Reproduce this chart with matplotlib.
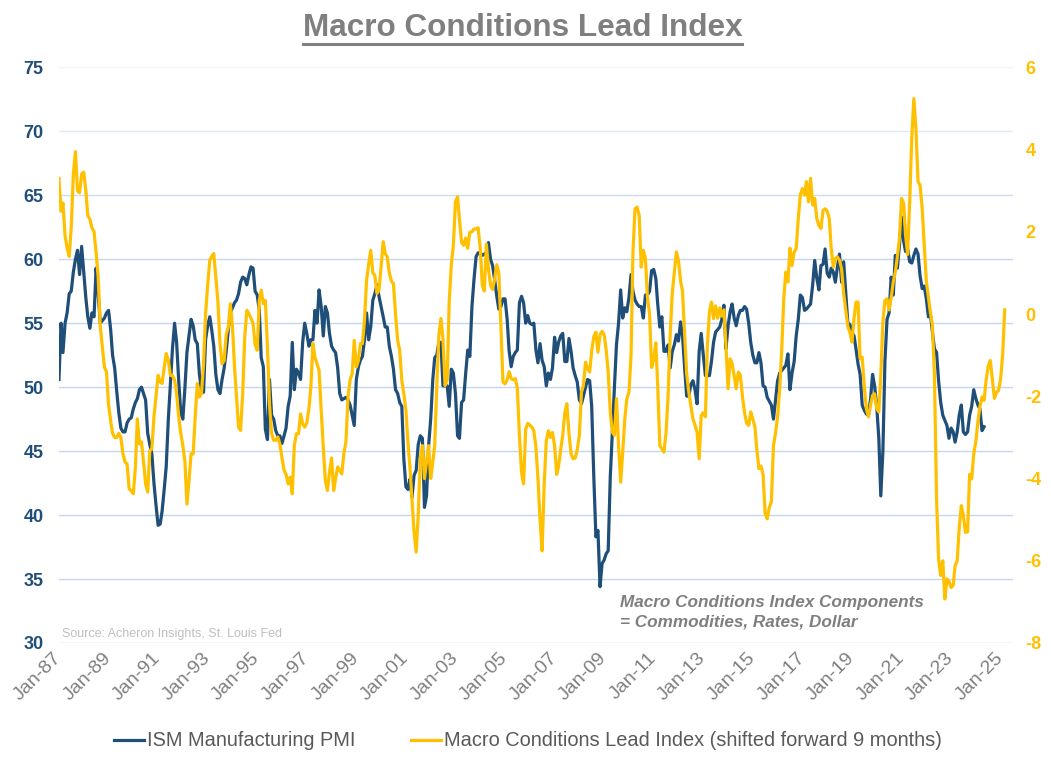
import matplotlib
matplotlib.use("Agg")
import matplotlib.pyplot as plt
import matplotlib.dates as mdates
from matplotlib.lines import Line2D
import pandas as pd

plt.rcParams['font.family'] = ['Liberation Sans', 'DejaVu Sans']
plt.rcParams['axes.unicode_minus'] = False

# ISM Manufacturing PMI, monthly from Jan-87 (left axis)
ism_pmi = [
    50.6, 55.0, 52.7, 55.0, 55.8, 57.3, 57.5, 59.0, 60.0, 60.7, 58.8, 61.0,  # 1987
    59.0, 57.0, 55.5, 54.6, 55.8, 55.5, 59.3, 57.3, 55.0, 55.2, 55.4, 55.8,  # 1988
    56.0, 54.5, 52.5, 51.5, 49.7, 48.0, 46.8, 46.5, 46.5, 47.2, 47.5, 47.6,  # 1989
    48.3, 48.8, 49.1, 49.8, 50.0, 49.5, 49.0, 46.4, 45.5, 44.8, 42.5, 40.8,  # 1990
    39.2, 39.3, 40.3, 42.0, 43.8, 47.5, 50.2, 53.0, 55.0, 53.5, 50.5, 48.0,  # 1991
    47.5, 50.0, 52.7, 54.0, 55.3, 54.8, 53.7, 53.4, 51.0, 49.8, 49.6, 53.7,  # 1992
    54.8, 55.5, 54.5, 53.2, 51.0, 49.8, 49.5, 50.6, 51.5, 52.8, 54.5, 55.8,  # 1993
    56.2, 56.6, 56.8, 57.3, 58.2, 58.6, 58.5, 58.0, 58.8, 59.4, 59.3, 57.5,  # 1994
    57.2, 56.0, 52.3, 51.6, 46.7, 45.9, 50.6, 47.8, 47.5, 46.6, 46.2, 46.2,  # 1995
    45.6, 46.2, 46.8, 48.5, 49.3, 53.5, 49.8, 51.4, 51.1, 50.6, 53.5, 55.0,  # 1996
    54.2, 53.2, 53.7, 53.7, 56.0, 55.0, 57.6, 56.3, 54.0, 56.3, 55.8, 54.2,  # 1997
    53.2, 52.9, 52.7, 51.5, 49.5, 49.0, 49.1, 49.2, 49.0, 48.6, 47.8, 47.0,  # 1998
    50.6, 51.6, 52.1, 52.4, 53.7, 55.8, 53.7, 54.7, 56.8, 57.3, 58.0, 57.1,  # 1999
    56.3, 55.5, 54.7, 54.7, 53.2, 52.4, 51.4, 49.8, 49.5, 48.8, 48.5, 44.4,  # 2000
    42.2, 42.0, 42.8, 41.4, 43.1, 43.5, 45.5, 46.2, 46.0, 40.6, 41.5, 45.4,  # 2001
    47.5, 50.6, 52.3, 52.5, 53.5, 53.5, 50.1, 50.1, 50.1, 48.5, 51.4, 51.1,  # 2002
    49.5, 46.2, 46.0, 48.8, 49.0, 51.1, 52.9, 52.4, 56.3, 58.4, 60.2, 60.5,  # 2003
    60.5, 60.3, 60.4, 60.5, 61.3, 60.0, 59.5, 58.4, 57.1, 56.1, 56.3, 56.9,  # 2004
    56.9, 55.3, 52.9, 51.6, 52.4, 52.7, 52.9, 56.6, 57.1, 56.6, 55.0, 55.6,  # 2005
    55.0, 54.9, 55.0, 52.9, 51.9, 53.4, 52.1, 51.6, 50.1, 51.1, 50.6, 51.5,  # 2006
    53.9, 52.7, 53.5, 54.0, 54.2, 52.0, 52.0, 53.8, 52.8, 51.5, 50.9, 50.4,  # 2007
    49.0, 48.7, 49.3, 50.0, 50.6, 50.5, 48.5, 43.0, 38.3, 38.8, 34.4, 36.2,  # 2008
    36.5, 37.0, 37.2, 43.0, 46.5, 50.0, 53.3, 55.0, 57.6, 55.4, 56.2, 55.9,  # 2009
    57.0, 58.8, 57.5, 56.8, 56.5, 56.3, 56.3, 55.4, 57.2, 57.2, 57.5, 59.1,  # 2010
    59.2, 58.5, 56.5, 54.7, 55.5, 52.8, 52.8, 53.3, 51.5, 52.8, 53.3, 54.1,  # 2011
    53.6, 55.1, 54.0, 51.5, 49.3, 49.3, 50.2, 50.5, 49.8, 48.7, 52.8, 54.2,  # 2012
    52.5, 50.9, 50.9, 50.9, 52.0, 53.5, 54.3, 54.5, 54.7, 55.3, 56.4, 53.0,  # 2013
    54.8, 55.9, 56.5, 55.4, 54.8, 55.6, 56.0, 56.0, 56.3, 56.1, 55.0, 53.5,  # 2014
    52.5, 51.9, 51.9, 52.7, 51.9, 50.1, 50.0, 49.2, 48.9, 48.6, 47.5, 49.0,  # 2015
    50.5, 51.1, 51.3, 51.5, 51.7, 52.6, 49.8, 51.1, 52.0, 54.0, 55.3, 57.2,  # 2016
    57.0, 56.0, 56.1, 56.3, 56.5, 58.0, 59.9, 58.5, 57.6, 59.5, 59.6, 60.8,  # 2017
    58.9, 58.6, 59.3, 59.0, 58.2, 59.4, 60.4, 58.2, 59.8, 57.4, 55.0, 54.9,  # 2018
    54.3, 54.0, 53.0, 51.8, 51.0, 48.6, 48.2, 47.9, 47.8, 49.0, 51.0, 50.1,  # 2019
    48.5, 46.0, 41.5, 45.0, 52.0, 55.3, 55.8, 58.6, 57.2, 60.3, 59.3, 61.1,  # 2020
    63.3, 61.4, 60.6, 60.8, 59.8, 59.7, 60.3, 60.8, 60.4, 58.7, 57.7, 57.9,  # 2021
    56.9, 55.5, 55.8, 54.3, 53.0, 52.7, 50.5, 48.8, 47.8, 47.4, 47.0, 46.0,  # 2022
    46.8, 46.5, 45.7, 46.5, 47.8, 48.6, 46.5, 46.3, 46.5, 47.8, 48.5, 49.8,  # 2023
    49.1, 48.6, 48.3, 46.6, 46.9,                                            # 2024
]

# Macro Conditions Lead Index shifted forward 9 months, monthly from Jan-87 (right axis)
macro_lead = [
    3.3, 2.5, 2.7, 1.9, 1.6, 1.4, 2.1, 3.4, 3.95, 3.0, 2.95, 3.4,  # 1987
    3.45, 3.0, 2.4, 2.3, 2.1, 2.0, 1.5, 0.9, -0.3, -0.8, -1.3, -1.4,  # 1988
    -2.2, -2.6, -2.9, -3.0, -3.0, -2.9, -3.0, -3.4, -3.6, -3.65, -4.25, -4.3,  # 1989
    -4.37, -3.72, -2.55, -3.16, -3.11, -3.6, -4.13, -4.33, -3.32, -3.28, -2.5, -2.0,  # 1990
    -1.49, -1.65, -1.69, -1.3, -0.96, -1.13, -1.49, -1.5, -1.6, -1.94, -2.5, -2.9,  # 1991
    -3.2, -3.6, -4.62, -4.05, -3.4, -3.4, -2.5, -1.69, -2.02, -1.94, -1.21, 0.0,  # 1992
    0.7, 1.31, 1.4, 1.47, 0.9, 0.3, -0.72, -1.21, -1.13, -0.5, -0.32, 0.25,  # 1993
    -0.3, -1.3, -2.0, -2.75, -2.83, -1.94, -0.56, 0.09, 0.0, -0.1, -0.23, -0.75,  # 1994
    -0.88, 0.33, 0.58, 0.25, 0.33, -0.8, -2.2, -2.9, -3.07, -3.07, -2.99, -3.16,  # 1995
    -3.5, -3.8, -3.9, -4.13, -3.97, -4.37, -3.2, -2.91, -2.91, -2.43, -2.67, -2.75,  # 1996
    -2.65, -2.3, -1.8, -0.72, -1.05, -1.21, -1.37, -2.34, -3.24, -4.05, -4.29, -3.85,  # 1997
    -3.5, -4.29, -4.0, -3.72, -3.8, -3.89, -3.4, -3.1, -2.0, -1.6, -1.45, -0.64,  # 1998
    -1.29, -1.13, -0.72, -0.72, -0.15, 0.82, 1.2, 1.55, 1.0, 0.94, 0.5, 0.58,  # 1999
    1.15, 1.76, 1.47, 1.39, 1.0, 0.8, 0.74, 0.0, -0.64, -0.88, -1.61, -1.94,  # 2000
    -2.34, -3.16, -3.72, -4.54, -5.3, -5.79, -4.9, -3.5, -3.2, -4.0, -3.6, -3.2,  # 2001
    -4.0, -3.6, -3.2, -1.74, -0.52, -0.11, -0.6, -1.74, -1.6, 0.3, 1.2, 1.67,  # 2002
    2.73, 2.85, 2.3, 1.75, 1.67, 1.85, 1.6, 1.99, 2.0, 2.07, 2.07, 2.1,  # 2003
    1.6, 0.7, 0.56, 1.7, 1.1, 0.7, 0.6, 0.85, 1.2, 1.0, -0.3, -1.65,  # 2004
    -1.7, -1.6, -1.4, -1.57, -1.6, -1.57, -1.8, -2.95, -3.85, -4.13, -2.8, -2.66,  # 2005
    -2.7, -2.75, -2.84, -3.24, -4.0, -5.0, -5.76, -4.13, -3.08, -2.84, -3.0, -2.88,  # 2006
    -3.2, -3.9, -3.7, -3.3, -2.95, -2.4, -2.18, -2.9, -3.4, -3.52, -3.5, -3.3,  # 2007
    -2.95, -1.9, -1.74, -1.17, -1.33, -1.41, -0.9, -0.55, -0.44, -0.93, -0.5, -0.42,  # 2008
    -0.5, -0.9, -1.41, -2.38, -2.87, -2.95, -2.06, -3.2, -4.09, -3.36, -2.55, -2.06,  # 2009
    -1.9, -1.0, 1.5, 2.56, 2.6, 2.4, 1.14, 1.55, 1.35, 0.41, 0.0, -1.3,  # 2010
    -1.1, -0.7, -1.74, -3.2, -3.28, -3.36, -2.9, -2.0, -0.5, 0.5, 1.0, 1.51,  # 2011
    1.3, 0.8, 0.55, -0.5, -1.45, -1.9, -2.22, -2.55, -2.7, -2.87, -3.52, -2.47,  # 2012
    -2.4, -2.5, -0.8, 0.05, 0.29, -0.11, 0.2, -0.1, 0.15, -0.05, 0.1, -0.76,  # 2013
    -1.82, -1.09, -1.2, -1.5, -1.82, -1.41, -1.49, -2.0, -2.4, -2.65, -2.71, -2.38,  # 2014
    -2.55, -2.75, -3.3, -3.76, -3.7, -3.9, -4.85, -4.98, -4.7, -4.57, -3.2, -2.9,  # 2015
    -2.5, -1.82, -0.9, 0.37, 1.02, 0.78, 1.6, 1.18, 1.51, 1.59, 2.32, 2.9,  # 2016
    3.05, 2.89, 3.22, 2.73, 3.3, 2.65, 2.81, 2.32, 2.15, 2.08, 2.52, 2.56,  # 2017
    2.5, 2.32, 1.6, 1.14, 1.35, 1.39, 1.31, 1.1, 0.5, 0.1, -0.3, -0.44,  # 2018
    -0.68, -0.11, 0.29, 0.29, -1.09, -1.05, -1.74, -2.3, -2.5, -2.22, -1.98, -1.94,  # 2019
    -2.3, -2.38, -1.5, -0.2, 0.33, 0.37, 0.1, 0.4, 0.78, 1.02, 1.4, 1.84,  # 2020
    2.81, 2.69, 1.92, 1.45, 2.73, 4.3, 5.24, 4.5, 3.22, 3.13, 2.57, 1.7,  # 2021
    0.8, 0.4, 0.05, -0.28, -1.5, -4.5, -5.96, -6.36, -6.0, -6.93, -6.44, -6.5,  # 2022
    -6.65, -6.6, -6.12, -6.0, -5.2, -4.66, -4.9, -5.31, -5.3, -3.9, -4.01, -3.4,  # 2023
    -3.1, -2.6, -2.25, -2.02, -2.1, -1.6, -1.27, -1.13, -1.6, -2.05, -1.9, -1.86,  # 2024
    -1.57, -0.95, 0.1,  # 2025
]

tick_years = list(range(1987, 2026, 2))
left_ticks = list(range(30, 80, 5))
right_ticks = list(range(-8, 8, 2))

ism_dates = pd.date_range('1987-01-01', periods=len(ism_pmi), freq='MS')
macro_dates = pd.date_range('1987-01-01', periods=len(macro_lead), freq='MS')

fig = plt.figure(figsize=(10.51, 7.66), dpi=100)
ax = fig.add_axes([0.0561, 0.1606, 0.9077, 0.7515])
ax2 = ax.twinx()

# gridlines, fading out towards the top
for v in left_ticks:
    ax.axhline(v, color='#c2d8ee', alpha=min(1.0, 0.3 + (75 - v) / 18), lw=1.0, zorder=0)

ax.plot(ism_dates, ism_pmi, color='#1f4e79', lw=2.3)
ax2.plot(macro_dates, macro_lead, color='#ffc000', lw=2.3)

ax.set_ylim(30, 75)
ax2.set_ylim(-8, 6)
ax.set_xlim(pd.Timestamp('1987-01-01'), pd.Timestamp('2025-07-01'))
ax.set_yticks(left_ticks)
ax2.set_yticks(right_ticks)

for a in (ax, ax2):
    for s in a.spines.values():
        s.set_visible(False)

ax.tick_params(axis='y', length=0, pad=11, labelsize=13, labelcolor='#1f4e79')
ax2.tick_params(axis='y', length=0, pad=9, labelsize=13, labelcolor='#ffc000')
for lab in ax.get_yticklabels() + ax2.get_yticklabels():
    lab.set_fontweight('bold')

ax.set_xticks([pd.Timestamp(f'{y}-01-01') for y in tick_years])
ax.xaxis.set_major_formatter(mdates.DateFormatter('%b-%y'))
ax.tick_params(axis='x', length=0, pad=9, labelsize=14, labelcolor='#808080')
plt.setp(ax.get_xticklabels(), rotation=45, ha='right', va='center', rotation_mode='anchor')

title = fig.text(0.497, 0.963, 'Macro Conditions Lead Index', ha='center', va='center',
                 fontsize=22.7, fontweight='bold', color='#7f7f7f')

fig.text(620 / 1051, 1 - 602 / 766, 'Macro Conditions Index Components', fontsize=12.3,
         fontweight='bold', style='italic', color='#7f7f7f', va='center')
fig.text(620 / 1051, 1 - 622 / 766, '= Commodities, Rates, Dollar', fontsize=12.3,
         fontweight='bold', style='italic', color='#7f7f7f', va='center')
fig.text(62 / 1051, 1 - 634 / 766, 'Source: Acheron Insights, St. Louis Fed', fontsize=9,
         color='#bfbfbf', va='center')

handles = [Line2D([], [], color='#1f4e79', lw=2.3), Line2D([], [], color='#ffc000', lw=2.3)]
fig.legend(handles, ['ISM Manufacturing PMI', 'Macro Conditions Lead Index (shifted forward 9 months)'],
           loc='center', bbox_to_anchor=(528 / 1051, 1 - 741 / 766), ncol=2, frameon=False,
           fontsize=14.4, handlelength=1.5, handletextpad=0.15, columnspacing=2.75,
           labelcolor='#595959')

# underline under the title
fig.canvas.draw()
bb = title.get_window_extent()
W = fig.bbox.width
fig.add_artist(Line2D([bb.x0 / W, bb.x1 / W], [0.9426, 0.9426], transform=fig.transFigure,
                      color='#7f7f7f', lw=2.2))

fig.savefig('out.png', dpi=100)
